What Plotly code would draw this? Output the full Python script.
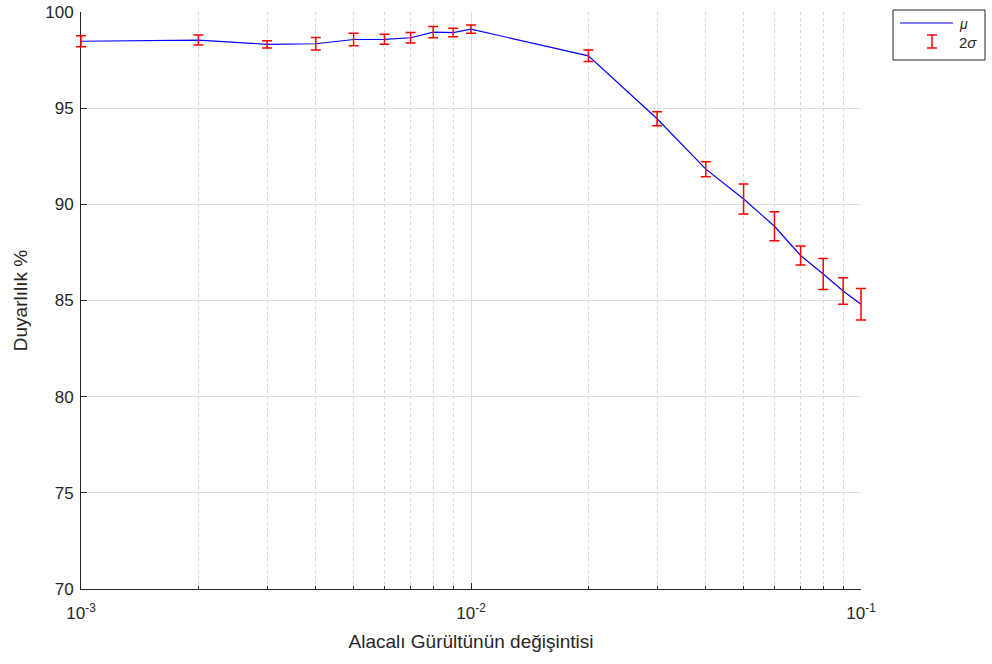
import plotly.graph_objects as go

# Noise variance levels (log-spaced decades 1e-3 .. 1e-1)
noise_var = [0.001, 0.002, 0.003, 0.004, 0.005, 0.006, 0.007, 0.008, 0.009,
             0.01, 0.02, 0.03, 0.04, 0.05, 0.06, 0.07, 0.08, 0.09, 0.1]
# Mean sensitivity (%)
mu = [98.48, 98.54, 98.32, 98.35, 98.57, 98.58, 98.66, 98.95, 98.93,
      99.11, 97.72, 94.45, 91.83, 90.28, 88.86, 87.34, 86.38, 85.49, 84.81]
# Error bar half-lengths (2 sigma)
two_sigma = [0.29, 0.26, 0.19, 0.33, 0.32, 0.26, 0.27, 0.29, 0.22,
             0.22, 0.30, 0.37, 0.39, 0.78, 0.75, 0.50, 0.81, 0.69, 0.82]

x_major = [0.001, 0.01, 0.1]
x_major_text = ["10<sup>-3</sup>", "10<sup>-2</sup>", "10<sup>-1</sup>"]
x_minor = [m * d for d in (0.001, 0.01) for m in range(2, 10)]
y_ticks = [70, 75, 80, 85, 90, 95, 100]

W, H = 992, 664
AX_L, AX_R, T, B = 81, 861, 12, 75      # axes box in pixels
PAD = 8                                   # room so edge error caps are not clipped
L, R = AX_L - PAD, W - AX_R - PAD
PW, PH = W - L - R, H - T - B
FONT = "Liberation Sans, Arial, sans-serif"
TXT = "#262626"
GRID = "#dfdfdf"

x_lo, x_hi = -3, -1
y_lo, y_hi = 70, 100
dec_px = (AX_R - AX_L) / (x_hi - x_lo)
x_dom = [PAD / PW, 1 - PAD / PW]
x2_range = [x_lo - PAD / dec_px, x_hi + PAD / dec_px]


def px(xp):
    return (xp - L) / PW


def py(yp):
    return (H - B - yp) / PH


fig = go.Figure()
fig.add_trace(go.Scatter(x=noise_var, y=mu, mode="lines",
                         line=dict(color="#0000ff", width=1.2),
                         name="μ", showlegend=False))
# error bars on a second, slightly wider subplot with the same data scale
fig.add_trace(go.Scatter(x=noise_var, y=mu, mode="markers",
                         xaxis="x2", yaxis="y2",
                         marker=dict(size=1, color="rgba(0,0,0,0)"),
                         error_y=dict(type="data", array=two_sigma, visible=True,
                                      color="#ff0000", thickness=1.5, width=5),
                         name="2σ", showlegend=False))

# Legend box drawn in paper space
shapes = [
    dict(type="rect", xref="paper", yref="paper",
         x0=px(893), x1=px(985), y0=py(60), y1=py(10),
         line=dict(color="#262626", width=1), fillcolor="white"),
    dict(type="line", xref="paper", yref="paper",
         x0=px(900), x1=px(953), y0=py(23), y1=py(23),
         line=dict(color="#0000ff", width=1.2)),
    dict(type="line", xref="paper", yref="paper",
         x0=px(932), x1=px(932), y0=py(35), y1=py(48),
         line=dict(color="#ff0000", width=1.5)),
    dict(type="line", xref="paper", yref="paper",
         x0=px(927), x1=px(937), y0=py(35), y1=py(35),
         line=dict(color="#ff0000", width=1.5)),
    dict(type="line", xref="paper", yref="paper",
         x0=px(927), x1=px(937), y0=py(48), y1=py(48),
         line=dict(color="#ff0000", width=1.5)),
]
annotations = [
    dict(xref="paper", yref="paper", x=px(957), y=py(24), xanchor="left",
         yanchor="middle", text="<i>μ</i>", showarrow=False,
         font=dict(family=FONT, size=14, color=TXT)),
    dict(xref="paper", yref="paper", x=px(957), y=py(42), xanchor="left",
         yanchor="middle", text="2<i>σ</i>", showarrow=False,
         font=dict(family=FONT, size=15, color=TXT)),
]

fig.update_layout(
    width=W, height=H,
    margin=dict(l=L, r=R, t=T, b=B, pad=0, autoexpand=False),
    paper_bgcolor="white", plot_bgcolor="rgba(0,0,0,0)",
    showlegend=False,
    shapes=shapes, annotations=annotations,
    font=dict(family=FONT, size=14, color=TXT),
    xaxis=dict(
        type="log", range=[x_lo, x_hi], domain=x_dom, anchor="y", automargin=False,
        tickvals=x_major, ticktext=x_major_text,
        tickfont=dict(family=FONT, size=17, color=TXT),
        ticks="inside", ticklen=6, tickcolor="#262626", ticklabelstandoff=9,
        showline=True, linecolor="#262626", linewidth=1, mirror=False,
        showgrid=True, gridcolor=GRID, gridwidth=1,
        minor=dict(tickvals=x_minor, ticks="inside", ticklen=3, tickcolor="#262626",
                   showgrid=True, gridcolor="#d6d6d6", griddash="dot", gridwidth=1),
        zeroline=False,
        title=dict(text="Alacalı Gürültünün değişintisi",
                   font=dict(family=FONT, size=19, color=TXT), standoff=12),
    ),
    yaxis=dict(
        range=[y_lo, y_hi], tickvals=y_ticks, anchor="x", automargin=False,
        tickfont=dict(family=FONT, size=17, color=TXT),
        ticks="inside", ticklen=6, tickcolor="#262626", ticklabelstandoff=3,
        showline=True, linecolor="#262626", linewidth=1, mirror=False,
        showgrid=True, gridcolor=GRID, gridwidth=1,
        zeroline=False,
        title=dict(text="Duyarlılık %",
                   font=dict(family=FONT, size=19, color=TXT), standoff=12),
    ),
    xaxis2=dict(
        type="log", range=x2_range, domain=[0, 1], anchor="y2",
        visible=False, showgrid=False, zeroline=False, automargin=False,
    ),
    yaxis2=dict(
        range=[y_lo, y_hi], domain=[0, 1], anchor="x2",
        visible=False, showgrid=False, zeroline=False, automargin=False,
    ),
)

fig.write_html("out.html")
